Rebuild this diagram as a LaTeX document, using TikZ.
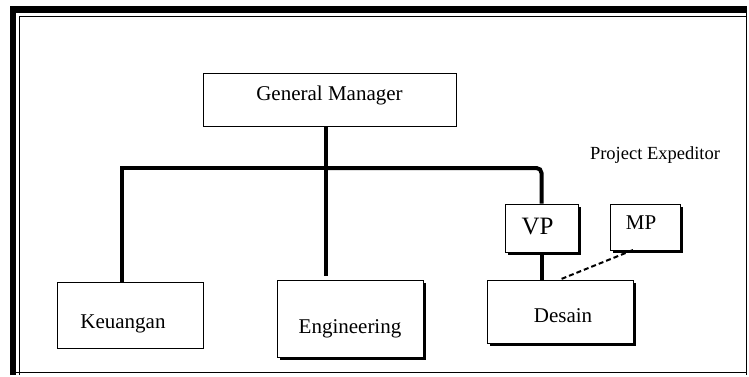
\documentclass[tikz,border=0pt]{standalone}
\usepackage{fontspec}
\setmainfont{Liberation Serif}
\usetikzlibrary{shadows}
\begin{document}
\begin{tikzpicture}[x=1pt,y=-1pt,
  box/.style={draw, fill=white, line width=1pt, inner sep=0pt},
  shadowbox/.style={box, general shadow={fill=black, shadow xshift=3pt, shadow yshift=-3pt}},
  link/.style={line width=4pt},
  tie/.style={line width=2pt, dash pattern=on 5pt off 3pt},
  lbl/.style={font=\fontsize{21}{25}\selectfont},
  big/.style={font=\fontsize{25}{29}\selectfont}]
\useasboundingbox (0,0) rectangle (749,377);

% frame: heavy top/left edge, thin inner rule
\draw[line width=6.5pt] (13,375) -- (13,9.5) -- (747,9.5);
\draw[line width=0.8pt] (19,375) -- (19,16) -- (746,16);
\draw[line width=1pt] (746,9) -- (746,375);
\draw[line width=1pt] (10,372.5) -- (746,372.5);

% boxes
\node[box, minimum width=253pt, minimum height=53pt,
      label={[lbl, yshift=5pt]center:General Manager}] (gm) at (329.5,100.5) {};
\node[box, minimum width=146pt, minimum height=66pt,
      label={[lbl, xshift=-7pt, yshift=-9pt]center:Keuangan}] (keu) at (130,315) {};
\node[shadowbox, minimum width=146pt, minimum height=77pt,
      label={[lbl, yshift=-10pt]center:Engineering}] (eng) at (350,318.5) {};
\node[shadowbox, minimum width=146pt, minimum height=63pt,
      label={[lbl, xshift=3pt, yshift=-4.5pt]center:Desain}] (des) at (560,311.5) {};
\node[shadowbox, minimum width=73pt, minimum height=48pt,
      label={[big, xshift=-4pt, yshift=1pt]center:VP}] (vp) at (541.5,228) {};
\node[shadowbox, minimum width=70pt, minimum height=46pt,
      label={[lbl, xshift=-4pt, yshift=4pt]center:MP}] (mp) at (645,227) {};

\node[font=\fontsize{18.5}{22}\selectfont] (pe) at (655,155) {Project Expeditor};

% reporting lines
\coordinate (trunk) at (326,127);
\coordinate (busL) at (122,168);
\coordinate (busM) at (trunk |- busL);
\coordinate (mpfoot) at (633,250);
\draw[link, shorten >=4pt] (trunk) -- (trunk |- eng.north);
\draw[link] (keu.north -| busL) -- (busL) -- (busM);
\draw[link, rounded corners=5pt] (busM) -| (vp.north);
\draw[link] (vp.south) -- (vp.south |- des.north);
\draw[tie] (mpfoot) -- (des.north);
\end{tikzpicture}
\end{document}
